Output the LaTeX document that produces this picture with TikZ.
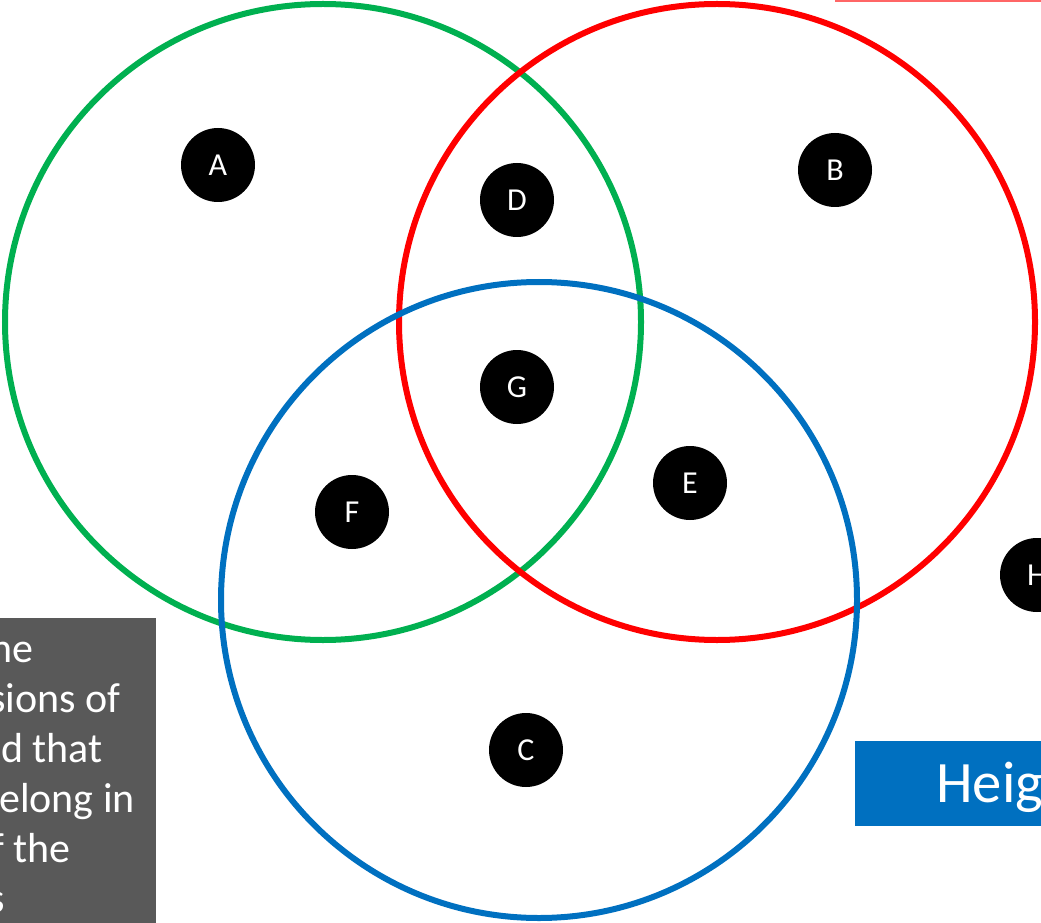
\documentclass[tikz,border=0pt]{standalone}
\usepackage{fontspec}
\setmainfont{Carlito}
\definecolor{vgreen}{HTML}{00B050}
\definecolor{vred}{HTML}{FF0000}
\definecolor{vblue}{HTML}{0070C0}
\definecolor{boxgray}{HTML}{595959}
\tikzset{
  ring/.style={line width=4.5pt},
  dot/.style={circle, fill=black, minimum size=55.5pt, inner sep=0pt, text=white, font=\fontsize{24}{28}\selectfont},
  graytext/.style={anchor=base west, inner sep=0pt, text=white, font=\fontsize{31.5}{38}\selectfont},
}
\begin{document}
\begin{tikzpicture}[x=0.75pt,y=-0.75pt]
\useasboundingbox (0,0) rectangle (1041,923);
\clip (0,0) rectangle (1041,923);
% partial red box at top
\draw[vred!60, line width=1.5pt] (835,1) -- (1060,1);
% circles
\draw[ring, vgreen] (323,322) circle[radius=238.5pt];
\draw[ring, vred] (717,322) circle[radius=238.5pt];
\draw[ring, vblue] (539,600) circle[radius=238.5pt];
% dots
\node[dot] (A) at (218,165) {A};
\node[dot] (B) at (835,170) {B};
\node[dot] (D) at (517,200) {D};
\node[dot] (G) at (517,387) {G};
\node[dot] (E) at (690,483) {E};
\node[dot] (F) at (352,512) {F};
\node[dot] (C) at (526,750) {C};
\node[dot] (H) at (1037,575) {H};
% gray box
\fill[boxgray] (-20,618) rectangle (156,940);
\node[graytext] (t1) at (-10,662) {he};
\node[graytext] (t2) at (-11,712) {sions of};
\node[graytext] (t3) at (1,762) {d that};
\node[graytext] (t4) at (-1,812) {elong in};
\node[graytext] (t5) at (-9,862) {f the};
\node[graytext] (t6) at (-12,912) {s};
% blue box
\fill[vblue] (855,741) rectangle (1060,826);
\node[anchor=base west, inner sep=0pt, text=white, font=\fontsize{44}{52}\selectfont] (h1) at (936,802) {Heig};
\end{tikzpicture}
\end{document}
